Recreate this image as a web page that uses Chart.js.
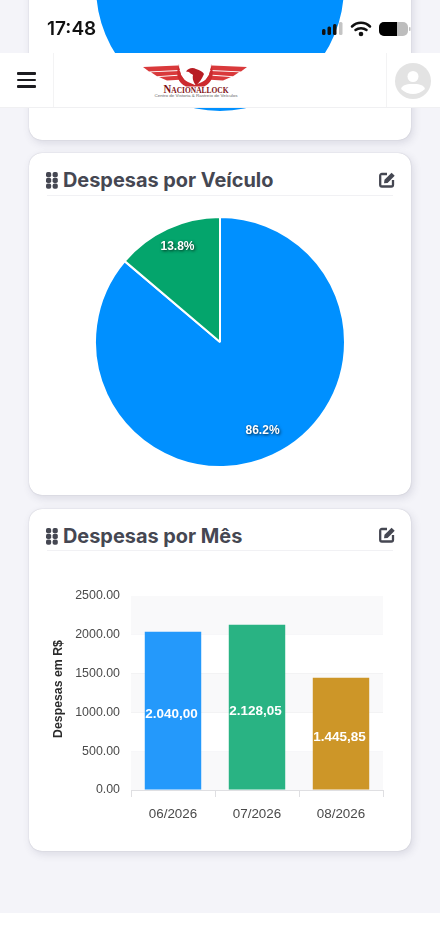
<!DOCTYPE html>
<html lang="pt-BR"><head><meta charset="utf-8">
<script src="https://cdn.jsdelivr.net/npm/chart.js@4"></script>
<style>
html,body{margin:0;padding:0;width:440px;height:952px;overflow:hidden;background:#fff;font-family:Inter,sans-serif}
#bg{position:absolute;left:0;top:0;width:440px;height:913px;background:#f4f4f9}
.card{position:absolute;left:29px;width:382px;background:#fff;border-radius:13px;box-sizing:border-box;box-shadow:0 0 1px rgba(60,60,90,.35),2px 3px 9px rgba(60,60,90,.14)}
.title{position:absolute;left:63px;font:700 19.9px/26px Inter,sans-serif;color:#454752;white-space:nowrap}
.sep{position:absolute;left:47px;width:346px;height:1px;background:#f1f1f4}
.abs{position:absolute}
canvas{position:absolute;display:block}
#hdr{position:absolute;left:0;top:53px;width:440px;height:54px;background:#fff;border-bottom:1px solid #f0f0f2;box-sizing:content-box}
.vl{position:absolute;top:53px;width:1px;height:54px;background:#f3f3f4}
.bar3{position:absolute;left:17px;width:19px;height:2.5px;background:#1c1c20;border-radius:1px}
#time{position:absolute;left:47px;top:17px;font:600 19px/24px Inter,sans-serif;color:#111}
</style></head><body>
<div id="bg"></div>
<div class="card" style="top:-60px;height:200px"></div>
<canvas id="topPie" style="left:96px;top:-137px"></canvas>
<div class="card" style="top:153px;height:342px"></div>
<div class="card" style="top:509px;height:342px"></div>

<svg class="abs" style="left:46px;top:172px" width="12" height="17"><g fill="#454752"><rect x="0" y="0" width="5.200" height="5.200" rx="1.800"/><rect x="6.600" y="0" width="5.200" height="5.200" rx="1.800"/><rect x="0" y="5.800" width="5.200" height="5.200" rx="1.800"/><rect x="6.600" y="5.800" width="5.200" height="5.200" rx="1.800"/><rect x="0" y="11.600" width="5.200" height="5.200" rx="1.800"/><rect x="6.600" y="11.600" width="5.200" height="5.200" rx="1.800"/></g></svg>
<div class="title" style="top:167px">Despesas por Veículo</div>
<svg class="abs" style="left:379px;top:171px" width="17" height="17" viewBox="0 0 17 17"><path d="M8 3H3.200A1.700 1.700 0 0 0 1.200 4.700v9.100a1.700 1.700 0 0 0 1.700 1.700h9.400a1.700 1.700 0 0 0 1.700-1.700V9" fill="none" stroke="#454752" stroke-width="2.300"/><path d="M5.500 8.800 12.600 1.700 15.700 4.800 8.600 11.900 5 12.300Z" fill="#454752"/></svg>
<div class="sep" style="top:195px"></div>
<canvas id="pie" style="left:94px;top:216px"></canvas>

<svg class="abs" style="left:46px;top:528px" width="12" height="17"><g fill="#454752"><rect x="0" y="0" width="5.200" height="5.200" rx="1.800"/><rect x="6.600" y="0" width="5.200" height="5.200" rx="1.800"/><rect x="0" y="5.800" width="5.200" height="5.200" rx="1.800"/><rect x="6.600" y="5.800" width="5.200" height="5.200" rx="1.800"/><rect x="0" y="11.600" width="5.200" height="5.200" rx="1.800"/><rect x="6.600" y="11.600" width="5.200" height="5.200" rx="1.800"/></g></svg>
<div class="title" style="top:523px">Despesas por Mês</div>
<svg class="abs" style="left:379px;top:526px" width="17" height="17" viewBox="0 0 17 17"><path d="M8 3H3.200A1.700 1.700 0 0 0 1.200 4.700v9.100a1.700 1.700 0 0 0 1.700 1.700h9.400a1.700 1.700 0 0 0 1.700-1.700V9" fill="none" stroke="#454752" stroke-width="2.300"/><path d="M5.500 8.800 12.600 1.700 15.700 4.800 8.600 11.900 5 12.300Z" fill="#454752"/></svg>
<div class="sep" style="top:550px"></div>
<canvas id="bar" style="left:29.5px;top:560px"></canvas>

<div id="hdr"></div>
<div class="vl" style="left:53px"></div><div class="vl" style="left:386px"></div>
<div class="bar3" style="top:72px"></div><div class="bar3" style="top:78.700px"></div><div class="bar3" style="top:85.300px"></div>
<svg class="abs" style="left:142px;top:64px" width="106" height="36" viewBox="0 0 106 36">
<g fill="#d9393b"><path d="M1 3 36 1.500 38 6 7 7.500Z"/><path d="M9 8.200 38 7 39 10.500 15 12.200Z"/><path d="M17 13 39.500 11.500 42 15.500 25 16.500Z"/>
<path d="M105 3 70 1.500 68 6 99 7.500Z"/><path d="M97 8.200 68 7 67 10.500 91 12.200Z"/><path d="M89 13 66.500 11.500 64 15.500 81 16.500Z"/></g>
<path d="M37 0C37 9 40 15 46 18L53 21 60 18C66 15 69 9 69 0 73 11 70 19 62 22.500H44C36 19 33 11 37 0Z" fill="#cc2a2e"/>
<path d="M47 8 44 7.500C46 4 51 3 54 5 58 6 61 8 62 10 60 15 57 19 54 21.500 52 19 50 15 51 11 50 10 48 9.500 47 8Z" fill="#b81d24"/>
<text x="54" y="28.500" text-anchor="middle" font-family="Liberation Serif" font-weight="700" font-size="11.500" fill="#7e0f14" style="font-variant:small-caps" textLength="65" lengthAdjust="spacingAndGlyphs">Nacionallock</text>
<text x="54" y="32.800" text-anchor="middle" font-family="Liberation Sans" font-size="4" fill="#666" textLength="83" lengthAdjust="spacingAndGlyphs">Centro de Vistoria &amp; Rastreio de Veículos</text>
</svg>
<svg class="abs" style="left:395px;top:63px" width="36" height="36" viewBox="0 0 36 36"><circle cx="18" cy="18" r="18" fill="#e3e3e3"/><circle cx="18" cy="13.500" r="5.500" fill="#fff"/><path d="M6 26C8 21 13 21 18 21s10 0 12 5c-3 3-8 5-12 5s-9-2-12-5Z" fill="#fff"/></svg>

<div id="time">17:48</div>
<svg class="abs" style="left:321px;top:20px" width="90" height="18" viewBox="0 0 90 18">
<g fill="#111"><rect x="1" y="9" width="3.500" height="6" rx="1.500"/><rect x="6.500" y="6.500" width="3.500" height="8.500" rx="1.500"/><rect x="12" y="4" width="3.500" height="11" rx="1.500"/></g>
<rect x="18" y="2" width="3.500" height="13" rx="1.500" fill="#c4c4c4"/>
<g fill="none" stroke="#111" stroke-width="2.500" stroke-linecap="round"><path d="M31 6.500C36 1.500 44 1.500 49 6.500"/><path d="M34.500 10C37.500 7.500 42.500 7.500 45.500 10"/></g><circle cx="40" cy="14" r="2.300" fill="#111"/>
<rect x="58" y="2" width="29" height="14" rx="5" fill="#bdbdbd"/><path d="M63 2H76V16H63A5 5 0 0 1 58 11V7A5 5 0 0 1 63 2Z" fill="#000"/><rect x="88" y="7" width="1.500" height="4" rx=".7" fill="#bdbdbd"/>
</svg>

<script>
const topPieValues = [100];
const topPieColors = ['#0090ff'];

const pieLabels = ['Veículo A', 'Veículo B'];
const pieValues = [86.2, 13.8];
const pieColors = ['#0090ff', '#04a56c'];

const months = ['06/2026', '07/2026', '08/2026'];
const monthValues = [2040.00, 2128.05, 1445.85];
const monthColors = ['#2499fb', '#29b383', '#cd9628'];
const yTickStep = 500;
const yMax = 2500;
const yTitle = 'Despesas em R$';

function sizeCanvas(id, w, h) {
  const c = document.getElementById(id);
  c.style.width = w + 'px'; c.style.height = h + 'px';
  c.width = w; c.height = h;
  return c;
}
function brl(v) {
  const p = v.toFixed(2).split('.');
  return p[0].replace(/\B(?=(\d{3})+$)/g, '.') + ',' + p[1];
}
const pieLabelPlugin = {
  id: 'pieLabelPlugin',
  afterDatasetsDraw(chart) {
    const ctx = chart.ctx, meta = chart.getDatasetMeta(0);
    ctx.save();
    ctx.font = 'bold 12px "Liberation Sans"';
    ctx.textAlign = 'center'; ctx.textBaseline = 'middle';
    ctx.fillStyle = '#fff';
    ctx.shadowColor = 'rgba(0,0,0,.75)'; ctx.shadowBlur = 3; ctx.shadowOffsetX = 1; ctx.shadowOffsetY = 1;
    meta.data.forEach((arc, i) => {
      const a = (arc.startAngle + arc.endAngle) / 2, r = arc.outerRadius * 0.81;
      ctx.fillText(pieValues[i].toFixed(1) + '%', arc.x + Math.cos(a) * r, arc.y + Math.sin(a) * r - 3);
    });
    ctx.restore();
  }
};
const bandPlugin = {
  id: 'bandPlugin',
  beforeDatasetsDraw(chart) {
    const { ctx, chartArea: a, scales: { y } } = chart;
    ctx.save();
    ctx.fillStyle = '#f9f9fa';
    for (let v = 0; v < yMax; v += yTickStep * 2) {
      const t = y.getPixelForValue(v + yTickStep), b = y.getPixelForValue(v);
      ctx.fillRect(a.left, t, a.right - a.left, b - t);
    }
    ctx.restore();
  }
};
const barLabelPlugin = {
  id: 'barLabelPlugin',
  afterDatasetsDraw(chart) {
    const ctx = chart.ctx, meta = chart.getDatasetMeta(0), a = chart.chartArea;
    ctx.save();
    ctx.font = 'bold 13.5px "Liberation Sans"';
    ctx.textAlign = 'center'; ctx.textBaseline = 'middle';
    ctx.fillStyle = '#fff';
    meta.data.forEach((b, i) => {
      ctx.fillText(brl(monthValues[i]), b.x - 1.5, (b.y + b.base) / 2 + 4);
    });
    ctx.translate(28.5, (a.top + a.bottom) / 2 - 4);
    ctx.rotate(-Math.PI / 2);
    ctx.font = 'bold 12.3px "Liberation Sans"';
    ctx.fillStyle = '#2b2b2b';
    ctx.fillText(yTitle, 0, 0);
    ctx.restore();
  }
};
Chart.defaults.animation = false;
Chart.defaults.responsive = false;

new Chart(sizeCanvas('topPie', 248, 248), {
  type: 'pie',
  data: { labels: ['Total'], datasets: [{ data: topPieValues, backgroundColor: topPieColors, borderWidth: 0 }] },
  options: { plugins: { legend: { display: false }, tooltip: { enabled: false } } }
});
new Chart(sizeCanvas('pie', 252, 252), {
  type: 'pie',
  data: { labels: pieLabels, datasets: [{ data: pieValues, backgroundColor: pieColors, borderColor: '#fff', borderWidth: 2 }] },
  options: { plugins: { legend: { display: false }, tooltip: { enabled: false } } },
  plugins: [pieLabelPlugin]
});
new Chart(sizeCanvas('bar', 382, 280), {
  type: 'bar',
  data: { labels: months, datasets: [{ data: monthValues, backgroundColor: monthColors, borderWidth: 0, barPercentage: 0.672, categoryPercentage: 1 }] },
  options: {
    layout: { padding: { top: 36, right: 29, bottom: 0, left: 0 } },
    plugins: { legend: { display: false }, tooltip: { enabled: false } },
    scales: {
      x: {
        afterFit(s) { s.height = 50; },
        border: { color: '#dfdfe2' },
        grid: { display: true, drawOnChartArea: false, drawTicks: true, tickLength: 7, color: '#dfdfe2' },
        ticks: { color: '#4a4a4a', padding: 9, font: { family: '"Liberation Sans"', size: 13.4 } }
      },
      y: {
        min: 0, max: yMax,
        afterFit(s) { s.width = 101; },
        border: { display: false },
        grid: { color: '#efeff1', drawTicks: false },
        ticks: { stepSize: yTickStep, padding: 11, color: '#4a4a4a', callback: v => v.toFixed(2), font: { family: '"Liberation Sans"', size: 12.4 } }
      }
    }
  },
  plugins: [bandPlugin, barLabelPlugin]
});
</script>
</body></html>
